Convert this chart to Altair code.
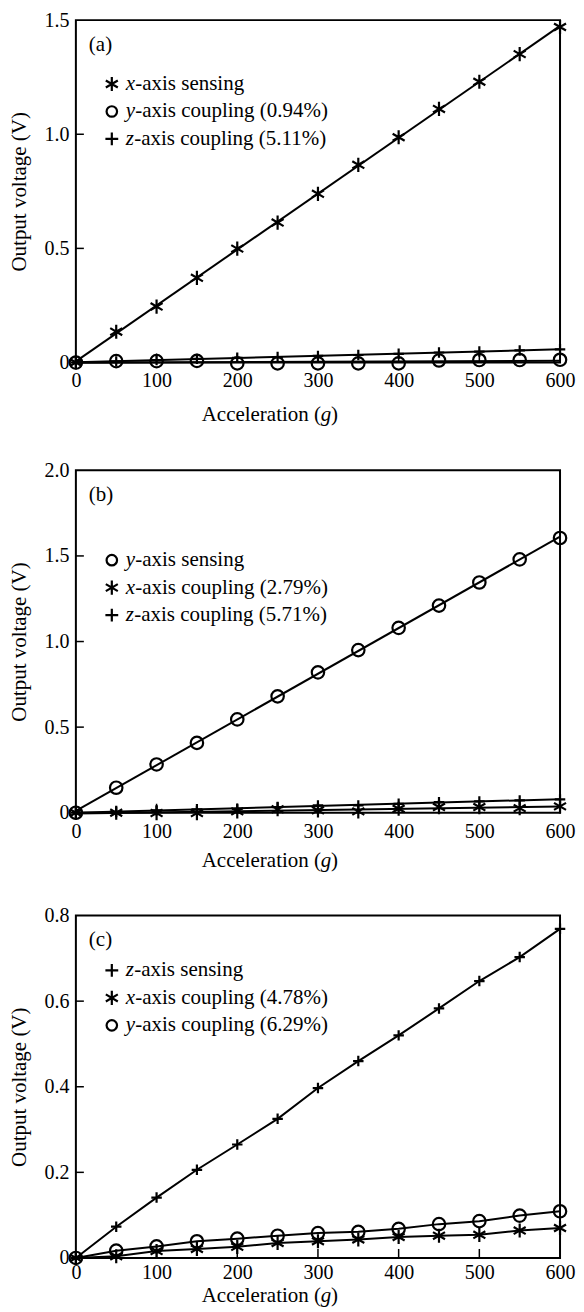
import altair as alt
import pandas as pd

FONT = "Liberation Serif, Times New Roman, Times, serif"

accel = [0, 50, 100, 150, 200, 250, 300, 350, 400, 450, 500, 550, 600]
x_tick_values = [0, 100, 200, 300, 400, 500, 600]
x_inner_ticks = [100, 200, 300, 400, 500]

# Panel (a)
a_x_sensing = [0, 0.135, 0.245, 0.371, 0.499, 0.613, 0.739, 0.866, 0.987, 1.111, 1.230, 1.351, 1.470]
a_y_coupling = [0, 0.006, 0.006, 0.007, -0.004, -0.004, -0.004, -0.004, -0.004, 0.009, 0.011, 0.011, 0.012]
a_z_coupling = [0, 0.005, 0.011, 0.016, 0.021, 0.024, 0.029, 0.033, 0.038, 0.044, 0.048, 0.053, 0.058]
a_yticks = [0, 0.5, 1.0, 1.5]

# Panel (b)
b_y_sensing = [0, 0.146, 0.282, 0.408, 0.545, 0.680, 0.820, 0.950, 1.080, 1.210, 1.345, 1.480, 1.605]
b_x_coupling = [0, 0.000, -0.002, -0.002, 0.008, 0.020, 0.014, 0.008, 0.023, 0.033, 0.033, 0.027, 0.037]
b_z_coupling = [0, 0.004, 0.014, 0.020, 0.023, 0.033, 0.043, 0.043, 0.052, 0.062, 0.066, 0.072, 0.078]
b_yticks = [0, 0.5, 1.0, 1.5, 2.0]

# Panel (c)
c_z_sensing = [0, 0.073, 0.141, 0.206, 0.265, 0.325, 0.397, 0.460, 0.520, 0.583, 0.647, 0.703, 0.769]
c_x_coupling = [0, 0.004, 0.016, 0.021, 0.026, 0.035, 0.039, 0.043, 0.049, 0.052, 0.054, 0.064, 0.070]
c_y_coupling = [0, 0.017, 0.027, 0.039, 0.045, 0.052, 0.058, 0.061, 0.068, 0.079, 0.086, 0.099, 0.109]
c_yticks = [0, 0.2, 0.4, 0.6, 0.8]

# marker glyphs
GLYPH_NAMES = ["aster", "circ", "plus"]
GLYPH_PATHS = {
    "aster": "M0,-1L0,1M-0.85,-0.5L0.85,0.5M-0.85,0.5L0.85,-0.5",
    "circ": "circle",
    "plus": "M-1,0L1,0M0,-1L0,1",
}
GLYPH_SIZES = {"aster": 200, "circ": 110, "plus": 165}

W, H = 485, 343


def panel(tag, series, ymax, yticks, legend_rows, legend_top, xlabel_pad, xtitle_dy, regress):
    rows = []
    for name, vals, glyph in series:
        for xv, yv in zip(accel, vals):
            rows.append({"acc": xv, "volt": yv, "series": name, "glyph": glyph})
    df = pd.DataFrame(rows)

    xs = alt.Scale(domain=[0, 600], nice=False, zero=False)
    ys = alt.Scale(domain=[0, ymax], nice=False, zero=False)
    x_axis = alt.Axis(values=x_tick_values, ticks=False, tickSize=0, domain=False, grid=False,
                      labelFontSize=20, labelPadding=xlabel_pad, labelColor="black", title=None,
                      labelFlush=False, labelFont=FONT)
    y_axis = alt.Axis(values=yticks, ticks=False, tickSize=0, domain=False, grid=False,
                      labelFontSize=20, labelPadding=7, labelColor="black", labelFont=FONT,
                      labelExpr="datum.value == 0 ? '0' : format(datum.value, '.1f')",
                      labelFlush=False,
                      title="Output voltage (V)", titleFontSize=21, titleFontWeight="normal",
                      titleColor="black", titleFont=FONT, titlePadding=14)
    X = alt.X("acc:Q", scale=xs, axis=x_axis)
    Y = alt.Y("volt:Q", scale=ys, axis=y_axis)

    base = alt.Chart(df)
    if regress:
        lines = base.transform_regression("acc", "volt", groupby=["series"], extent=[0, 600]).mark_line(
            color="black", strokeWidth=2).encode(x=X, y=Y, detail="series:N")
    else:
        lines = base.mark_line(color="black", strokeWidth=2).encode(x=X, y=Y, detail="series:N")

    pts = base.mark_point(filled=False, color="black", strokeWidth=2.2, opacity=1).encode(
        x=X, y=Y,
        shape=alt.Shape("glyph:N", scale=alt.Scale(domain=GLYPH_NAMES,
                                                   range=[GLYPH_PATHS[g] for g in GLYPH_NAMES]),
                        legend=None),
        size=alt.Size("glyph:N", scale=alt.Scale(domain=GLYPH_NAMES,
                                                 range=[GLYPH_SIZES[g] for g in GLYPH_NAMES]),
                      legend=None),
    )

    # inward ticks (at the tick values)
    ytick_df = pd.DataFrame({"volt": [v for v in yticks if 0 < v < ymax]})
    yt = alt.Chart(ytick_df).mark_rule(color="black", strokeWidth=1.5).encode(
        y=Y, x=alt.value(0), x2=alt.value(8))
    xtick_df = pd.DataFrame({"acc": x_inner_ticks})
    xt = alt.Chart(xtick_df).mark_rule(color="black", strokeWidth=1.5).encode(
        x=X, y=alt.value(H), y2=alt.value(H - 9))

    layers = [yt, xt, lines, pts]

    # panel tag
    layers.append(alt.Chart().mark_text(font=FONT, fontSize=21, align="left", baseline="middle",
                                        color="black").encode(
        x=alt.value(13), y=alt.value(25), text=alt.value(tag)))

    # legend
    for i, (glyph, letter, rest) in enumerate(legend_rows):
        yy = legend_top + i * 27.5
        layers.append(alt.Chart().mark_point(filled=False, color="black", strokeWidth=2.2, opacity=1,
                                             shape=GLYPH_PATHS[glyph], size=GLYPH_SIZES[glyph]).encode(
            x=alt.value(36), y=alt.value(yy)))
        layers.append(alt.Chart().mark_text(font=FONT, fontSize=21, fontStyle="italic", align="left",
                                            baseline="middle", color="black").encode(
            x=alt.value(50), y=alt.value(yy), text=alt.value(letter)))
        lw = 8.5 if letter == "z" else 9.5
        layers.append(alt.Chart().mark_text(font=FONT, fontSize=21, align="left",
                                            baseline="middle", color="black").encode(
            x=alt.value(50 + lw), y=alt.value(yy), text=alt.value(rest)))

    # x title "Acceleration (g)" with italic g
    cx = W / 2 + 8
    ty = H + xtitle_dy
    layers.append(alt.Chart().mark_text(font=FONT, fontSize=21, align="right", baseline="middle",
                                        color="black").encode(
        x=alt.value(cx - 5), y=alt.value(ty), text=alt.value("Acceleration (")))
    layers.append(alt.Chart().mark_text(font=FONT, fontSize=21, fontStyle="italic", align="center",
                                        baseline="middle", color="black").encode(
        x=alt.value(cx), y=alt.value(ty), text=alt.value("g")))
    layers.append(alt.Chart().mark_text(font=FONT, fontSize=21, align="left", baseline="middle",
                                        color="black").encode(
        x=alt.value(cx + 5), y=alt.value(ty), text=alt.value(")")))

    return alt.layer(*layers).properties(width=W, height=H)


pa = panel("(a)",
           [("x-axis sensing", a_x_sensing, "aster"),
            ("y-axis coupling", a_y_coupling, "circ"),
            ("z-axis coupling", a_z_coupling, "plus")],
           1.5, a_yticks,
           [("aster", "x", "-axis sensing"), ("circ", "y", "-axis coupling (0.94%)"),
            ("plus", "z", "-axis coupling (5.11%)")],
           64, 8, 53, True)

pb = panel("(b)",
           [("y-axis sensing", b_y_sensing, "circ"),
            ("x-axis coupling", b_x_coupling, "aster"),
            ("z-axis coupling", b_z_coupling, "plus")],
           2.0, b_yticks,
           [("circ", "y", "-axis sensing"), ("aster", "x", "-axis coupling (2.79%)"),
            ("plus", "z", "-axis coupling (5.71%)")],
           90, 9, 48, True)

pc = panel("(c)",
           [("z-axis sensing", c_z_sensing, "plus"),
            ("x-axis coupling", c_x_coupling, "aster"),
            ("y-axis coupling", c_y_coupling, "circ")],
           0.8, c_yticks,
           [("plus", "z", "-axis sensing"), ("aster", "x", "-axis coupling (4.78%)"),
            ("circ", "y", "-axis coupling (6.29%)")],
           55, 5, 38.5, False)

chart = alt.vconcat(pa, pb, pc, spacing=33).properties(
    padding={"left": 0, "top": 0, "right": 0, "bottom": 0},
    background="white",
).configure(font=FONT).configure_view(stroke="black", strokeWidth=2)

chart.save("out.html", embed_options={"renderer": "svg", "actions": False})
